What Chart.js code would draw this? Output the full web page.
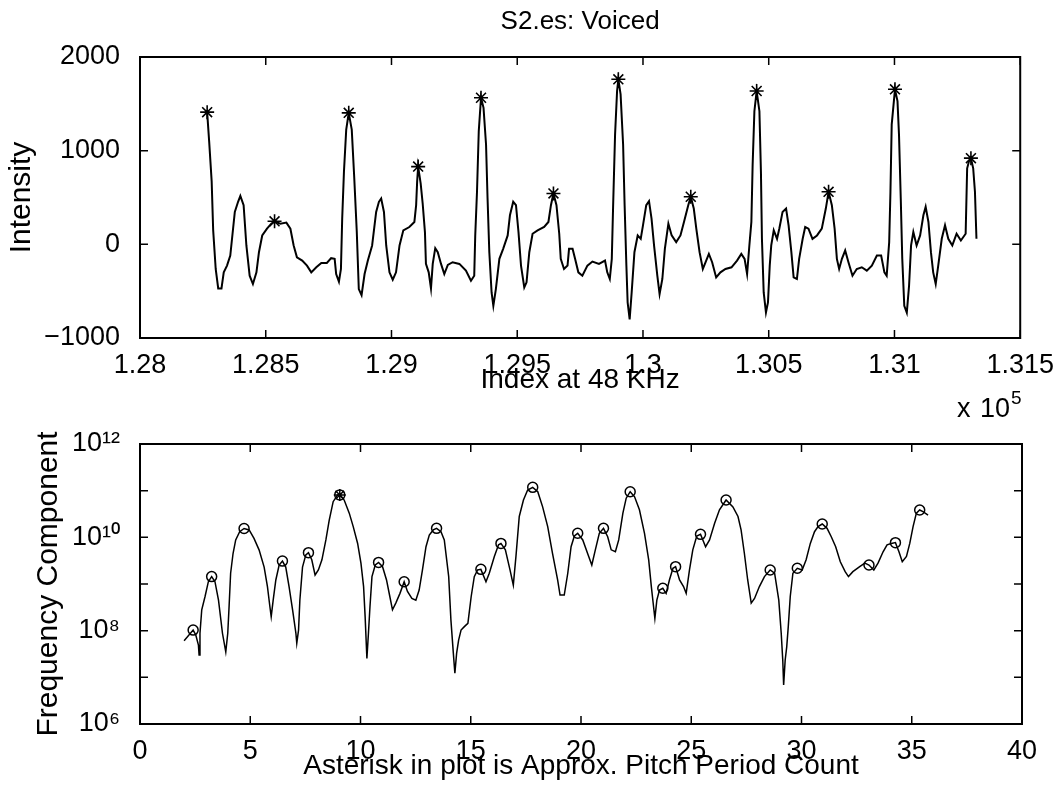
<!DOCTYPE html>
<html><head><meta charset="utf-8">
<script src="https://cdn.jsdelivr.net/npm/chart.js@4.4.1/dist/chart.umd.min.js"></script>
<style>
html,body{margin:0;padding:0;background:#fff;width:1057px;height:786px;overflow:hidden;}
#c1{position:absolute;left:0;top:0;}
#c2{position:absolute;left:0;top:400px;}
#mult{position:absolute;left:957px;top:395px;font-family:'Liberation Sans',Arial,Helvetica,sans-serif;font-size:27px;line-height:27px;color:#000;white-space:nowrap;word-spacing:2px;}
#mult span{font-size:19px;position:relative;top:-13px;margin-left:1px;}
</style></head><body>
<canvas id="c1" width="1057" height="400"></canvas>
<canvas id="c2" width="1057" height="386"></canvas>
<div id="mult">x 10<span>5</span></div>
<script>
// ---- top panel: waveform (Index at 48 KHz vs Intensity)
const topIndex = [
128267,128275,128285,128291,128301,128311,128324,128333,128346,128359,
128377,128390,128399,128412,128423,128436,128449,128463,128473,128486,
128505,128522,128535,128558,128582,128598,128611,128624,128645,128664,
128681,128701,128721,128743,128760,128774,128780,128791,128799,128804,
128811,128820,128830,128842,128852,128862,128870,128881,128893,128906,
128923,128939,128950,128959,128970,128979,128992,129005,129018,129032,
129047,129071,129091,129098,129102,129106,129116,129124,129133,129137,
129148,129157,129164,129174,129184,129197,129210,129224,129243,129270,
129296,129316,129329,129333,129340,129347,129356,129366,129376,129382,
129389,129398,129405,129415,129429,129444,129462,129471,129484,129495,
129505,129515,129528,129537,129548,129561,129581,129607,129624,129634,
129644,129656,129667,129673,129686,129700,129706,129720,129730,129743,
129759,129779,129799,129825,129849,129858,129868,129876,129881,129889,
129897,129902,129911,129921,129927,129934,129939,129947,129955,129966,
129979,129991,130000,130013,130024,130034,130044,130057,130066,130077,
130087,130101,130114,130132,130149,130163,130180,130190,130202,130212,
130225,130238,130249,130262,130275,130291,130308,130328,130352,130374,
130391,130404,130414,130423,130431,130436,130443,130452,130463,130469,
130473,130480,130489,130497,130504,130510,130520,130533,130542,130555,
130569,130579,130590,130599,130612,130621,130635,130645,130658,130674,
130692,130711,130727,130738,130751,130762,130771,130780,130791,130804,
130817,130833,130850,130870,130890,130910,130930,130947,130960,130969,
130979,130984,130989,131002,131012,131018,131025,131031,131039,131049,
131058,131066,131075,131088,131102,131115,131124,131135,131145,131154,
131164,131174,131188,131201,131214,131230,131247,131264,131283,131289,
131296,131304,131313,131320,131326];
const topIntensity = [
1411,1099,669,149,-263,-471,-471,-299,-227,-120,
346,454,518,418,-12,-335,-424,-299,-84,95,
167,221,246,221,232,167,-12,-138,-173,-227,
-299,-245,-198,-198,-148,-155,-317,-399,-263,275,
777,1224,1404,1224,705,131,-478,-543,-317,-173,
-12,346,454,490,346,-12,-299,-378,-299,-12,
149,185,239,418,669,830,651,436,131,-209,
-299,-471,-209,-41,-84,-209,-317,-220,-191,-209,
-281,-388,-335,95,561,1207,1565,1457,1063,490,
-84,-514,-657,-478,-155,-48,95,310,454,418,
131,-227,-460,-406,-84,113,149,185,239,418,
543,418,113,-155,-263,-227,-48,-48,-155,-299,
-335,-227,-184,-209,-173,-299,-370,-155,382,1171,
1637,1762,1601,1063,418,-227,-621,-801,-514,-84,
95,59,203,418,461,275,-12,-335,-532,-370,
-48,221,95,24,95,239,418,508,382,167,
-84,-263,-191,-102,-191,-353,-299,-263,-245,-173,
-102,-155,-317,-12,239,848,1421,1637,1421,776,
59,-514,-729,-621,-227,-12,149,59,167,346,
382,203,-84,-353,-370,-155,59,185,167,59,
95,167,382,561,418,167,-155,-263,-155,-66,
-191,-335,-263,-245,-281,-227,-120,-120,-299,-335,
24,561,1278,1655,1529,1171,490,-155,-657,-729,
-442,-12,131,-12,95,310,400,239,-84,-299,
-424,-227,59,203,59,-12,113,41,113,812,
884,920,812,561,59];
// asterisks: approximate pitch period peaks
const peakIndex = [128267,128535,128830,129106,129356,129644,129902,130190,130452,130738,131002,131304];
const peakIntensity = [1411,246,1404,830,1565,543,1762,508,1637,561,1655,920];
const topXTicks = [128000,128500,129000,129500,130000,130500,131000,131500];
const topXTickLabels = ['1.28','1.285','1.29','1.295','1.3','1.305','1.31','1.315'];
const topYTicks = [-1000,0,1000,2000];
const topYTickLabels = ['\u22121000','0','1000','2000'];

// ---- bottom panel: frequency component (log)
const freqX = [
2.00,2.41,2.53,2.65,2.68,2.72,2.80,2.95,3.10,3.25,
3.40,3.56,3.74,3.89,3.98,4.04,4.11,4.22,4.34,4.52,
4.72,4.95,5.17,5.40,5.63,5.78,5.89,5.95,6.04,6.16,
6.31,6.46,6.61,6.76,6.92,7.07,7.11,7.19,7.25,7.37,
7.52,7.64,7.79,7.94,8.09,8.25,8.43,8.58,8.76,8.96,
9.06,9.26,9.49,9.67,9.87,10.02,10.14,10.21,10.29,10.36,
10.43,10.52,10.67,10.82,11.00,11.18,11.33,11.45,11.60,11.79,
11.98,12.13,12.33,12.51,12.66,12.81,12.97,13.12,13.30,13.45,
13.65,13.80,14.00,14.10,14.21,14.28,14.36,14.45,14.56,14.71,
14.87,15.02,15.16,15.31,15.46,15.69,15.84,16.07,16.26,16.37,
16.57,16.78,16.93,17.05,17.20,17.39,17.58,17.81,18.04,18.26,
18.49,18.71,18.94,19.05,19.24,19.40,19.55,19.70,19.85,20.08,
20.30,20.49,20.65,20.83,21.02,21.21,21.37,21.56,21.71,21.90,
22.05,22.23,22.43,22.65,22.88,23.07,23.19,23.29,23.35,23.44,
23.56,23.71,23.86,24.01,24.17,24.29,24.47,24.65,24.77,24.92,
25.07,25.25,25.42,25.65,25.83,26.06,26.28,26.58,26.89,27.12,
27.26,27.41,27.56,27.72,27.87,28.09,28.32,28.58,28.78,28.97,
29.08,29.15,29.19,29.26,29.33,29.40,29.49,29.61,29.81,30.03,
30.21,30.40,30.59,30.75,30.94,31.16,31.35,31.55,31.76,31.98,
32.13,32.33,32.64,32.87,33.06,33.28,33.47,33.70,33.88,34.07,
34.26,34.42,34.57,34.76,34.91,35.06,35.21,35.36,35.51,35.74];
const freqY = [
6.1e7,1.03e8,8.1e7,4.9e7,3.0e7,8.8e7,2.8e8,5.4e8,1.12e9,1.44e9,
1.12e9,4.5e8,8.8e7,3.5e7,8.8e7,3.3e8,1.7e9,4.5e9,8.8e9,1.32e10,
1.55e10,1.44e10,9.5e9,5.4e9,2.3e9,8.8e8,3.3e8,2.0e8,4.5e8,1.22e9,
2.55e9,3.1e9,2.3e9,8.8e8,2.8e8,8.8e7,5.4e7,1.03e8,4.5e8,2.3e9,
4.2e9,4.7e9,3.3e9,1.56e9,2.0e9,3.3e9,8.8e9,2.3e10,5.8e10,8.1e10,
8.1e10,6.3e10,3.3e10,1.7e10,7.4e9,2.8e9,8.8e8,2.0e8,2.55e7,8.8e7,
3.3e8,1.44e9,2.55e9,2.9e9,2.35e9,1.22e9,5.4e8,2.8e8,3.9e8,6.3e8,
1.12e9,6.9e8,4.9e8,4.5e8,7.4e8,2.0e9,6.3e9,1.12e10,1.44e10,1.56e10,
1.32e10,8.8e9,1.44e9,1.7e8,3.3e7,1.22e7,3.3e7,6.3e7,1.03e8,1.22e8,
1.44e8,5.4e8,1.44e9,2.0e9,2.06e9,1.12e9,1.7e9,3.9e9,6.9e9,7.4e9,
5.4e9,2.0e9,9.5e8,3.9e9,2.8e10,6.3e10,1.03e11,1.18e11,9.5e10,4.5e10,
1.7e10,4.5e9,1.22e9,5.8e8,5.8e8,1.7e9,6.3e9,1.07e10,1.22e10,8.8e9,
4.5e9,2.55e9,5.4e9,1.22e10,1.56e10,1.03e10,5.4e9,4.9e9,8.8e9,3.3e10,
6.9e10,9.5e10,7.4e10,3.9e10,1.22e10,3.3e9,8.8e8,3.3e8,1.84e8,4.5e8,
7.4e8,8.1e8,6.3e8,1.22e9,2.17e9,2.35e9,1.22e9,8.8e8,6.3e8,2.0e9,
5.4e9,1.07e10,1.16e10,6.3e9,8.8e9,2.0e10,3.9e10,6.3e10,4.5e10,2.8e10,
1.44e10,4.5e9,1.22e9,3.9e8,4.9e8,8.8e8,1.44e9,2.0e9,1.7e9,4.5e8,
8.8e7,2.35e7,6.9e6,2.35e7,4.5e7,1.22e8,5.4e8,1.7e9,2.17e9,2.0e9,
3.3e9,7.4e9,1.32e10,1.7e10,1.93e10,1.56e10,1.03e10,6.3e9,3.0e9,1.84e9,
1.44e9,1.84e9,2.35e9,2.8e9,2.55e9,2.0e9,2.8e9,4.9e9,6.9e9,7.4e9,
7.7e9,4.9e9,3.0e9,3.9e9,7.4e9,1.7e10,3.3e10,3.85e10,3.55e10,3.0e10];
const circleX = [2.41,3.25,4.72,6.46,7.64,9.06,10.82,11.98,13.45,15.46,16.37,17.81,19.85,21.02,22.23,23.71,24.29,25.42,26.58,28.58,29.81,30.94,33.06,34.26,35.36];
const circleY = [1.03e8,1.44e9,1.55e10,3.1e9,4.7e9,8.1e10,2.9e9,1.12e9,1.56e10,2.06e9,7.4e9,1.18e11,1.22e10,1.56e10,9.5e10,8.1e8,2.35e9,1.16e10,6.3e10,2.0e9,2.17e9,1.93e10,2.55e9,7.7e9,3.85e10];
const pitchX = [9.06];
const pitchY = [8.1e10];
const botXTicks = [0,5,10,15,20,25,30,35,40];
const botXTickLabels = ['0','5','10','15','20','25','30','35','40'];
const botYTicks = [1e6,1e7,1e8,1e9,1e10,1e11,1e12];
const botYTickLabels = ['10\u2076','','10\u2078','','10\u00B9\u2070','','10\u00B9\u00B2'];

const FAMILY = "'Liberation Sans', Arial, Helvetica, sans-serif";
const tickFont = {family: FAMILY, size: 27, lineHeight: 1.2};
const labelFont = {family: FAMILY, size: 28, lineHeight: 1.2};
const yLabelFont = {family: FAMILY, size: 30, lineHeight: 1.2};
Chart.defaults.font.family = FAMILY;
Chart.defaults.color = '#000';

const pts = (xs, ys) => xs.map((v, i) => ({x: v, y: ys[i]}));

const frame = {
  id: 'frame',
  afterDatasetsDraw(chart) {
    const {ctx, chartArea: a, scales} = chart;
    const xs = scales.x, ys = scales.y;
    ctx.save();
    ctx.strokeStyle = '#000';
    ctx.lineWidth = 2;
    ctx.strokeRect(a.left, a.top, a.right - a.left, a.bottom - a.top);
    ctx.lineWidth = 1.5;
    ctx.beginPath();
    xs.ticks.forEach(t => {
      const p = xs.getPixelForValue(t.value);
      ctx.moveTo(p, a.bottom); ctx.lineTo(p, a.bottom - 8);
      ctx.moveTo(p, a.top); ctx.lineTo(p, a.top + 8);
    });
    ys.ticks.forEach(t => {
      const p = ys.getPixelForValue(t.value);
      ctx.moveTo(a.left, p); ctx.lineTo(a.left + 8, p);
      ctx.moveTo(a.right, p); ctx.lineTo(a.right - 8, p);
    });
    ctx.stroke();
    ctx.restore();
  }
};

function axisX(min, max, ticks, labels, title) {
  return {
    type: 'linear', min, max,
    afterBuildTicks: s => { s.ticks = ticks.map(v => ({value: v})); },
    afterFit: s => { s.height = 62; },
    grid: {display: false}, border: {display: false},
    ticks: {font: tickFont, color: '#000', padding: 3, maxRotation: 0, autoSkip: false,
      callback: v => labels[ticks.indexOf(v)]},
    title: {display: true, text: title, color: '#000', font: labelFont, padding: {top: 0, bottom: 3}}
  };
}

new Chart(document.getElementById('c1'), {
  type: 'scatter',
  data: {datasets: [
    {label: 'Pitch peaks', data: pts(peakIndex, peakIntensity), showLine: false,
     pointStyle: 'star', pointRadius: 7, borderColor: '#000', backgroundColor: '#000', borderWidth: 1.6},
    {label: 'Intensity', data: pts(topIndex, topIntensity), showLine: true, tension: 0,
     borderColor: '#000', borderWidth: 2, pointRadius: 0, fill: false}
  ]},
  options: {
    responsive: false, animation: false, events: [],
    layout: {padding: {left: 0, right: 35, top: 0, bottom: 0}},
    plugins: {
      legend: {display: false}, tooltip: {enabled: false},
      title: {display: true, text: 'S2.es: Voiced', color: '#000', fullSize: false,
        font: {family: FAMILY, size: 26, weight: 'normal', lineHeight: 1.2}, padding: {top: 6, bottom: 19.8}}
    },
    scales: {
      x: axisX(128000, 131500, topXTicks, topXTickLabels, 'Index at 48 KHz'),
      y: {
        type: 'linear', min: -1000, max: 2000,
        afterBuildTicks: s => { s.ticks = topYTicks.map(v => ({value: v})); },
        afterFit: s => { s.width = 140; },
        grid: {display: false}, border: {display: false},
        ticks: {font: tickFont, color: '#000', padding: 12, callback: v => topYTickLabels[topYTicks.indexOf(v)]},
        title: {display: true, text: 'Intensity', color: '#000', font: yLabelFont, padding: {top: 4, bottom: 0}}
      }
    }
  },
  plugins: [frame]
});

new Chart(document.getElementById('c2'), {
  type: 'scatter',
  data: {datasets: [
    {label: 'Pitch count', data: pts(pitchX, pitchY), showLine: false,
     pointStyle: 'star', pointRadius: 6, borderColor: '#000', backgroundColor: '#000', borderWidth: 1.5},
    {label: 'Peaks', data: pts(circleX, circleY), showLine: false,
     pointStyle: 'circle', pointRadius: 5, borderColor: '#000', backgroundColor: 'rgba(0,0,0,0)', borderWidth: 1.5},
    {label: 'Frequency Component', data: pts(freqX, freqY), showLine: true, tension: 0,
     borderColor: '#000', borderWidth: 1.5, pointRadius: 0, fill: false}
  ]},
  options: {
    responsive: false, animation: false, events: [],
    layout: {padding: {left: 0, right: 35, top: 44, bottom: 0}},
    plugins: {legend: {display: false}, tooltip: {enabled: false}},
    scales: {
      x: axisX(0, 40, botXTicks, botXTickLabels, 'Asterisk in plot is Approx. Pitch Period Count'),
      y: {
        type: 'logarithmic', min: 1e6, max: 1e12,
        afterBuildTicks: s => { s.ticks = botYTicks.map(v => ({value: v})); },
        afterFit: s => { s.width = 140; },
        grid: {display: false}, border: {display: false},
        ticks: {font: tickFont, color: '#000', padding: 12, autoSkip: false,
          callback: v => botYTickLabels[botYTicks.indexOf(v)]},
        title: {display: true, text: 'Frequency Component', color: '#000', font: yLabelFont, padding: {top: 31, bottom: 0}}
      }
    }
  },
  plugins: [frame]
});
</script>
</body></html>
